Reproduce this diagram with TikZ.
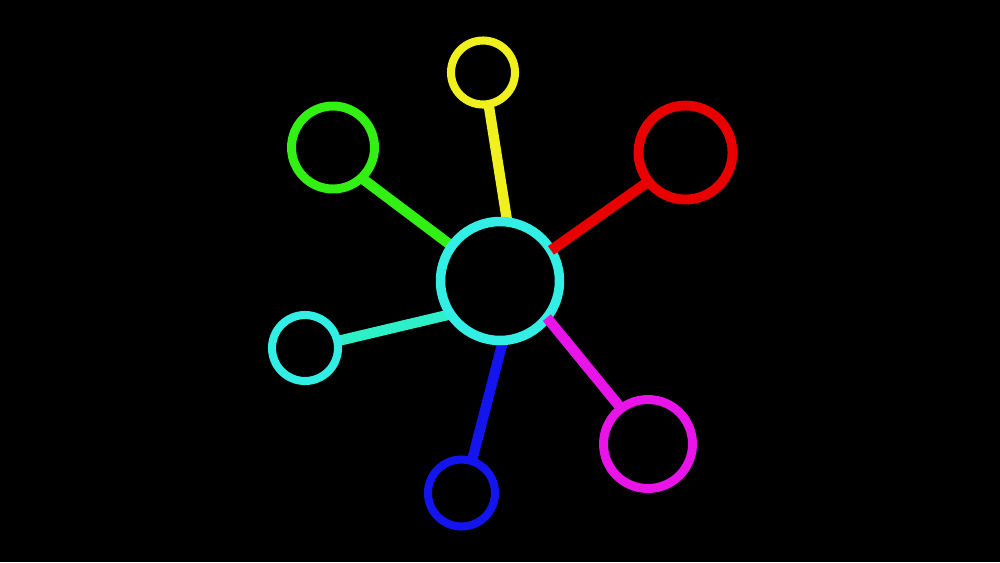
\documentclass[tikz,border=0pt]{standalone}
\definecolor{cring}{RGB}{50,238,228}
\definecolor{caqua}{RGB}{45,240,200}
\definecolor{cyel}{RGB}{240,240,30}
\definecolor{cgreen}{RGB}{50,240,20}
\definecolor{cred}{RGB}{232,0,0}
\definecolor{cblue}{RGB}{20,20,238}
\definecolor{cmag}{RGB}{232,20,232}
\pgfdeclarelayer{paper}
\pgfdeclarelayer{under}
\pgfsetlayers{paper,under,main}
\begin{document}
\begin{tikzpicture}[x=0.02cm,y=-0.02cm,
  ring/.style={circle,draw=#1,inner sep=0pt,outer sep=0pt,line width=5.1pt},
  spoke/.style={draw=#1,line width=5.9pt,line cap=butt}]
\begin{pgfonlayer}{paper}
\fill[black] (0,0) rectangle (1000,562);
\end{pgfonlayer}
\useasboundingbox (0,0) rectangle (1000,562);
% nodes
\node[ring=cring,minimum size=2.38cm,line width=5.4pt] (ctr) at (500,281) {};
\node[ring=cyel,minimum size=1.28cm,line width=4.6pt] (yel) at (483,72.5) {};
\node[ring=cgreen,minimum size=1.66cm] (grn) at (333,147.5) {};
\node[ring=cred,minimum size=1.88cm,line width=5.6pt] (red) at (685.5,152.5) {};
\node[ring=cring,minimum size=1.32cm,line width=4.6pt] (aqu) at (305,348) {};
\node[ring=cblue,minimum size=1.34cm,line width=4.6pt] (blu) at (461.5,493) {};
\node[ring=cmag,minimum size=1.78cm] (mag) at (648,444) {};
% connectors under the centre ring
\begin{pgfonlayer}{under}
\draw[spoke=cyel] (yel.-80.4) -- (ctr.83.2);
\draw[spoke=cgreen] (grn.-47) -- (ctr.144.7);
\draw[spoke=caqua] (aqu.12.2) -- (ctr.214.7);
\draw[spoke=cblue] (blu.72.3) -- (ctr.-87.2);
\end{pgfonlayer}
% connectors over the centre ring
\draw[spoke=cred] (red.-142.6) -- (ctr.31.9);
\draw[spoke=cmag] (mag.127.6) -- (ctr.-38.2);
\end{tikzpicture}
\end{document}
